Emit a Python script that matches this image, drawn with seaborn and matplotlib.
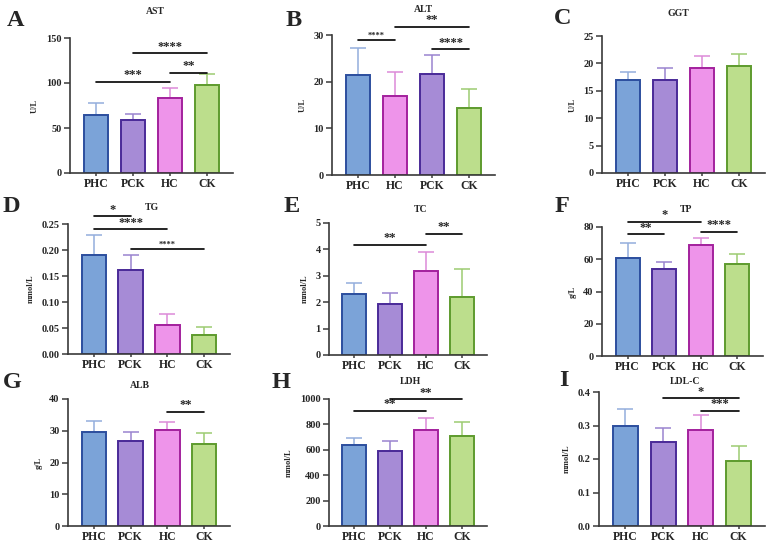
import matplotlib
matplotlib.use("Agg")
import matplotlib.pyplot as plt
import seaborn as sns
import numpy as np
import pandas as pd
from matplotlib.ticker import FormatStrFormatter

sns.set_theme(style="ticks")
plt.rcParams['font.family'] = ['Liberation Serif', 'DejaVu Serif']
plt.rcParams['font.weight'] = 'bold'

W, H = 767, 544
fig = plt.figure(figsize=(W / 100, H / 100), dpi=100)

fill = {'PHC': '#7BA3D8', 'PCK': '#A68BD6', 'HC': '#EE94EA', 'CK': '#BCDE8C'}
edge = {'PHC': '#2C4E9E', 'PCK': '#4A2A98', 'HC': '#A3219D', 'CK': '#5E9B2E'}
errc = {'PHC': '#93AEDD', 'PCK': '#9A84CF', 'HC': '#DD8AD9', 'CK': '#9CCB72'}

# ---- data ----
groups_std = ['PHC', 'PCK', 'HC', 'CK']
groups_alt = ['PHC', 'HC', 'PCK', 'CK']

ast_mean = [65, 59, 83, 98]
ast_sd = [13, 7, 12, 12]
alt_mean = [21.5, 17.0, 21.6, 14.4]
alt_sd = [5.8, 5.0, 4.2, 4.1]
ggt_mean = [16.9, 17.0, 19.1, 19.5]
ggt_sd = [1.5, 2.1, 2.2, 2.3]
tg_mean = [0.191, 0.161, 0.056, 0.036]
tg_sd = [0.037, 0.029, 0.020, 0.015]
tc_mean = [2.30, 1.93, 3.20, 2.20]
tc_sd = [0.42, 0.43, 0.70, 1.04]
tp_mean = [61, 54, 69, 57]
tp_sd = [9, 4, 4, 6]
alb_mean = [29.6, 26.8, 30.3, 25.7]
alb_sd = [3.4, 2.8, 2.6, 3.5]
ldh_mean = [640, 590, 757, 706]
ldh_sd = [55, 80, 93, 109]
ldl_mean = [0.300, 0.250, 0.287, 0.193]
ldl_sd = [0.050, 0.043, 0.043, 0.047]

panels = [
    dict(L='A', title='AST', yl='U/L', g=groups_std, m=ast_mean, s=ast_sd, top=150, step=50, fmt='%d',
         box=(70, 38, 233, 173), tpos=(155, 11), lpos=(16, 20),
         sig=[(0, 2, 101, '***', 9), (1, 3, 133, '****', 9), (2, 3, 111, '**', 9)]),
    dict(L='B', title='ALT', yl='U/L', g=groups_alt, m=alt_mean, s=alt_sd, top=30, step=10, fmt='%d',
         box=(332, 35, 495, 175), tpos=(423, 9), lpos=(294, 20),
         sig=[(0, 1, 28.9, '****', 6), (1, 3, 31.8, '**', 9), (2, 3, 26.9, '****', 9)]),
    dict(L='C', title='GGT', yl='U/L', g=groups_std, m=ggt_mean, s=ggt_sd, top=25, step=5, fmt='%d',
         box=(602, 36, 765, 173), tpos=(678, 14), lpos=(563, 19), sig=[]),
    dict(L='D', title='TG', yl='mmol/L', g=groups_std, m=tg_mean, s=tg_sd, top=0.25, step=0.05, fmt='%.2f',
         box=(68, 224, 230, 354), tpos=(152, 207), lpos=(11, 206),
         sig=[(0, 1, 0.265, '*', 9), (0, 2, 0.240, '****', 9), (1, 3, 0.201, '****', 6)]),
    dict(L='E', title='TC', yl='mmol/L', g=groups_std, m=tc_mean, s=tc_sd, top=5, step=1, fmt='%d',
         box=(329, 223, 487, 355), tpos=(421, 209), lpos=(292, 206),
         sig=[(0, 2, 4.17, '**', 9), (2, 3, 4.60, '**', 9)]),
    dict(L='F', title='TP', yl='g/L', g=groups_std, m=tp_mean, s=tp_sd, top=80, step=20, fmt='%d',
         box=(602, 227, 763, 356), tpos=(686, 209), lpos=(562, 206),
         sig=[(0, 1, 75.5, '**', 9), (0, 2, 83.3, '*', 9), (2, 3, 77.0, '****', 9)]),
    dict(L='G', title='ALB', yl='g/L', g=groups_std, m=alb_mean, s=alb_sd, top=40, step=10, fmt='%d',
         box=(68, 399, 230, 526), tpos=(140, 386), lpos=(12, 382),
         sig=[(2, 3, 36.0, '**', 9)]),
    dict(L='H', title='LDH', yl='mmol/L', g=groups_std, m=ldh_mean, s=ldh_sd, top=1000, step=200, fmt='%d',
         box=(329, 399, 487, 526), tpos=(410, 381), lpos=(281, 382),
         sig=[(0, 2, 906, '**', 9), (1, 3, 997, '**', 9)]),
    dict(L='I', title='LDL-C', yl='mmol/L', g=groups_std, m=ldl_mean, s=ldl_sd, top=0.4, step=0.1, fmt='%.1f',
         box=(599, 392, 765, 526), tpos=(685, 381), lpos=(564, 380),
         sig=[(1, 3, 0.381, '*', 9), (2, 3, 0.344, '***', 9)]),
]

spine_c = '#3a3a3a'
for p in panels:
    l, t, r, b = p['box']
    ax = fig.add_axes([l / W, 1 - b / H, (r - l) / W, (b - t) / H])
    df = pd.DataFrame({'group': p['g'], 'value': p['m']})
    sns.barplot(data=df, x='group', y='value', hue='group', order=p['g'], hue_order=p['g'],
                palette=[fill[g] for g in p['g']], width=0.66, saturation=1, errorbar=None,
                legend=False, ax=ax, zorder=2)
    for patch, g in zip(ax.patches, p['g']):
        patch.set_edgecolor(edge[g])
        patch.set_linewidth(1.4)
    for i, g in enumerate(p['g']):
        ax.errorbar(i, p['m'][i], yerr=[[0], [p['s'][i]]], fmt='none', ecolor=errc[g],
                    elinewidth=1.1, capsize=6, capthick=1.1, zorder=1)
    ax.set_xlim(-0.7, 3.7)
    ax.set_ylim(0, p['top'])
    ax.set_yticks(np.arange(0, p['top'] + p['step'] / 2, p['step']))
    ax.yaxis.set_major_formatter(FormatStrFormatter(p['fmt']))
    ax.set_xlabel('')
    ax.set_ylabel(p['yl'], fontsize=6, fontweight='bold', labelpad=5)
    ax.tick_params(axis='y', labelsize=7.5, length=4, width=1.1, color=spine_c, pad=2)
    ax.tick_params(axis='x', labelsize=8.5, length=2.5, width=1.1, color=spine_c, pad=1)
    for lab in ax.get_xticklabels() + ax.get_yticklabels():
        lab.set_fontweight('bold')
    sns.despine(ax=ax)
    for sp in ('left', 'bottom'):
        ax.spines[sp].set_color(spine_c)
        ax.spines[sp].set_linewidth(1.2)
    ax.set_facecolor('white')
    for (i, j, y, txt, fs) in p['sig']:
        ax.plot([i, j], [y, y], color='black', lw=1.2, clip_on=False, zorder=3)
        ax.annotate(txt, xy=((i + j) / 2, y), xytext=(0, 0.5), textcoords='offset points',
                    ha='center', va='bottom', fontsize=fs, fontweight='bold', annotation_clip=False)
    fig.text(p['tpos'][0] / W, 1 - p['tpos'][1] / H, p['title'], ha='center', va='center',
             fontsize=7, fontweight='bold')
    fig.text(p['lpos'][0] / W, 1 - p['lpos'][1] / H, p['L'], ha='center', va='center',
             fontsize=17.5, fontweight='bold')

fig.savefig('out.png', dpi=100, facecolor='white')
